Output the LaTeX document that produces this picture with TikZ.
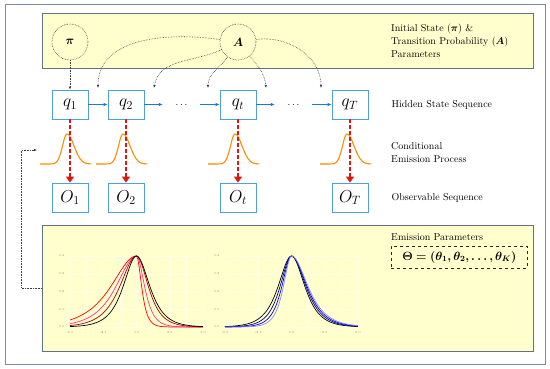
\documentclass[tikz,border=0pt]{standalone}
\usepackage{amsmath}
\usepackage{bm}
\usepackage{xcolor}
\usetikzlibrary{arrows.meta,positioning}
\definecolor{paleyellow}{RGB}{255,255,206}
\definecolor{panelgray}{RGB}{100,112,132}
\definecolor{frameslate}{RGB}{125,140,165}
\definecolor{boxblue}{RGB}{80,160,220}
\definecolor{arrowblue}{RGB}{30,120,210}
\definecolor{bumporange}{RGB}{255,140,0}
\definecolor{emitred}{RGB}{228,20,20}
\definecolor{linkgray}{RGB}{60,60,60}
\tikzset{
  panel/.style={draw=panelgray, fill=paleyellow, line width=0.8pt},
  param/.style={circle, draw=linkgray, densely dotted, line width=0.6pt, fill=paleyellow,
                minimum size=36pt, inner sep=0pt, font=\large},
  state/.style={draw=boxblue, fill=white, line width=0.8pt, minimum width=36pt,
                minimum height=29pt, inner sep=0pt, font=\LARGE},
  gapdots/.style={minimum width=37pt, minimum height=29pt, inner sep=0pt},
  transit/.style={draw=arrowblue, line width=0.9pt, -{Latex[length=4pt,width=3.5pt]}},
  emitarrow/.style={draw=emitred, line width=1.1pt, dash pattern=on 4pt off 2pt,
                    -{Triangle[length=6pt,width=8pt]}},
  paramlink/.style={draw=linkgray, densely dotted, line width=0.6pt,
                    -{Latex[length=3pt,width=2.5pt]}},
  bump/.style={draw=bumporange, line width=1.1pt},
  desc/.style={anchor=west, align=left, inner sep=0pt, font=\fontsize{10}{13}\selectfont},
  ticklabel/.style={font=\fontsize{3}{3}\selectfont, text=gray, inner sep=1pt},
  gridline/.style={draw=white!45!paleyellow, line width=0.3pt},
  declare function={bell(\u)=2*exp(max(-9,-abs(\u)))/(1+exp(max(-9,-2*abs(\u))));}
}

\begin{document}
\begin{tikzpicture}[x=1pt, y=-1pt]
  \useasboundingbox (0,0) rectangle (550,369);
  \draw[draw=frameslate, line width=1pt] (5,5) rectangle (545,364);

  % parameter panels
  \node[panel, minimum width=491pt, minimum height=55pt] (parampanel) at (287.5,40.5) {};
  \node[panel, minimum width=491pt, minimum height=126pt] (emitpanel) at (287.5,288) {};

  \node[param] (pi) at (70,42) {$\bm{\pi}$};
  \node[param] (A) at (238,42) {$\bm{A}$};

  % states and observations
  \foreach \i/\cx in {1/70, 2/126, t/238, T/350} {
    \node[state] (q\i) at (\cx,104.5) {$q_{\i}$};
    \node[state] (o\i) at (\cx,197.5) {$O_{\i}$};
  }
  \node[gapdots] (d1) at (181.5,104.5) {$\ldots$};
  \node[gapdots] (d2) at (293.5,104.5) {$\ldots$};

  \draw[transit] (q1) -- (q2);
  \draw[transit] (q2) -- (d1);
  \draw[transit] (d1) -- (qt);
  \draw[transit] (qt) -- (d2);
  \draw[transit] (d2) -- (qT);

  % emission bumps
  \foreach \cx in {70,126,238,350}
    \draw[bump] plot[domain=-27:24, samples=61, variable=\t]
      ({\cx-3+\t}, {164-30*exp(max(-9,-(\t*\t)/(2*(\t<0 ? 4.5 : 7)^2)))});

  \foreach \i in {1,2,t,T}
    \draw[emitarrow] (q\i) -- (o\i);

  % parameter links
  \coordinate (tr1) at (98,88);
  \coordinate (tr2) at (154,88);
  \coordinate (tr3) at (208,88);
  \coordinate (tr4) at (266,88);
  \coordinate (tr5) at (321,88);
  \draw[paramlink] (pi) -- (q1);
  \draw[paramlink] (A.172) to[out=172,in=90] (tr1);
  \draw[paramlink] (A.205) to[out=205,in=80] (tr2);
  \draw[paramlink] (A.235) to[out=235,in=90] (tr3);
  \draw[paramlink] (A.-50) to[out=-50,in=95] (tr4);
  \draw[paramlink] (A.8) to[out=8,in=90] (tr5);

  \coordinate (fbend) at (37,150);
  \draw[paramlink] (emitpanel.west) -- ++(-20,0) |- (fbend);

  % descriptions
  \node[desc] (paramtext) at (391,40.5)
    {Initial State ($\bm{\pi}$) \&\\Transition Probability ($\bm{A}$)\\Parameters};
  \node[desc, right=23pt of qT] (hiddentext) {Hidden State Sequence};
  \node[desc] (condtext) at (391,152.5) {Conditional\\Emission Process};
  \node[desc, right=23pt of oT] (obstext) {Observable Sequence};
  \node[desc] (emittext) at (391,237) {Emission Parameters};
  \node[draw=black!85, dashed, line width=0.8pt, anchor=west, minimum width=136pt,
        minimum height=22pt, inner sep=2pt, font=\large] (theta) at (391,257)
    {$\bm{\Theta = (\theta_1, \theta_2, \ldots, \theta_K)}$};

  % small density plots
  \foreach \px/\tag in {136.5/A, 291.5/B} {
    \begin{scope}[shift={(\px,327)}, x=13.3pt, y=177.5pt]
      \draw[gridline] (-5,0) grid[xstep=1.25, ystep=0.1] (5,0.4);
      \foreach \v [count=\k] in {0.0,0.1,0.2,0.3,0.4}
        \node[ticklabel, anchor=east] (yl\tag\k) at (-5.35,\v) {\v};
      \foreach \v [count=\k] in {-5.0,-2.5,0.0,2.5,5.0}
        \node[ticklabel, anchor=north] (xl\tag\k) at (\v,-0.02) {\v};
    \end{scope}
  }
  \begin{scope}[shift={(136.5,327)}, x=13.3pt, y=177.5pt]
    \foreach \al/\ar/\col in {0.6/3.0/red, 0.75/1.9/red!55!magenta!80!white, 0.92/1.3/red!70!black}
      \draw[\col, line width=0.7pt] plot[domain=-5:5, samples=101, variable=\t]
        (\t, {0.4*bell((\t<0 ? \al : \ar)*\t)});
    \draw[black, line width=0.7pt] plot[domain=-5:5, samples=101, variable=\t]
      (\t, {0.4*bell(1.15*\t)});
  \end{scope}
  \begin{scope}[shift={(291.5,327)}, x=13.3pt, y=177.5pt]
    \draw[black, line width=0.7pt] plot[domain=-5:5, samples=101, variable=\t]
      (\t, {0.4*bell(1.15*\t)});
    \foreach \al/\ar/\col in {1.35/1.06/blue!55!black, 1.6/0.99/blue, 1.9/0.93/blue!45!white}
      \draw[\col, line width=0.7pt] plot[domain=-5:5, samples=101, variable=\t]
        (\t, {0.4*bell((\t<0 ? \al : \ar)*\t)});
  \end{scope}
\end{tikzpicture}
\end{document}
